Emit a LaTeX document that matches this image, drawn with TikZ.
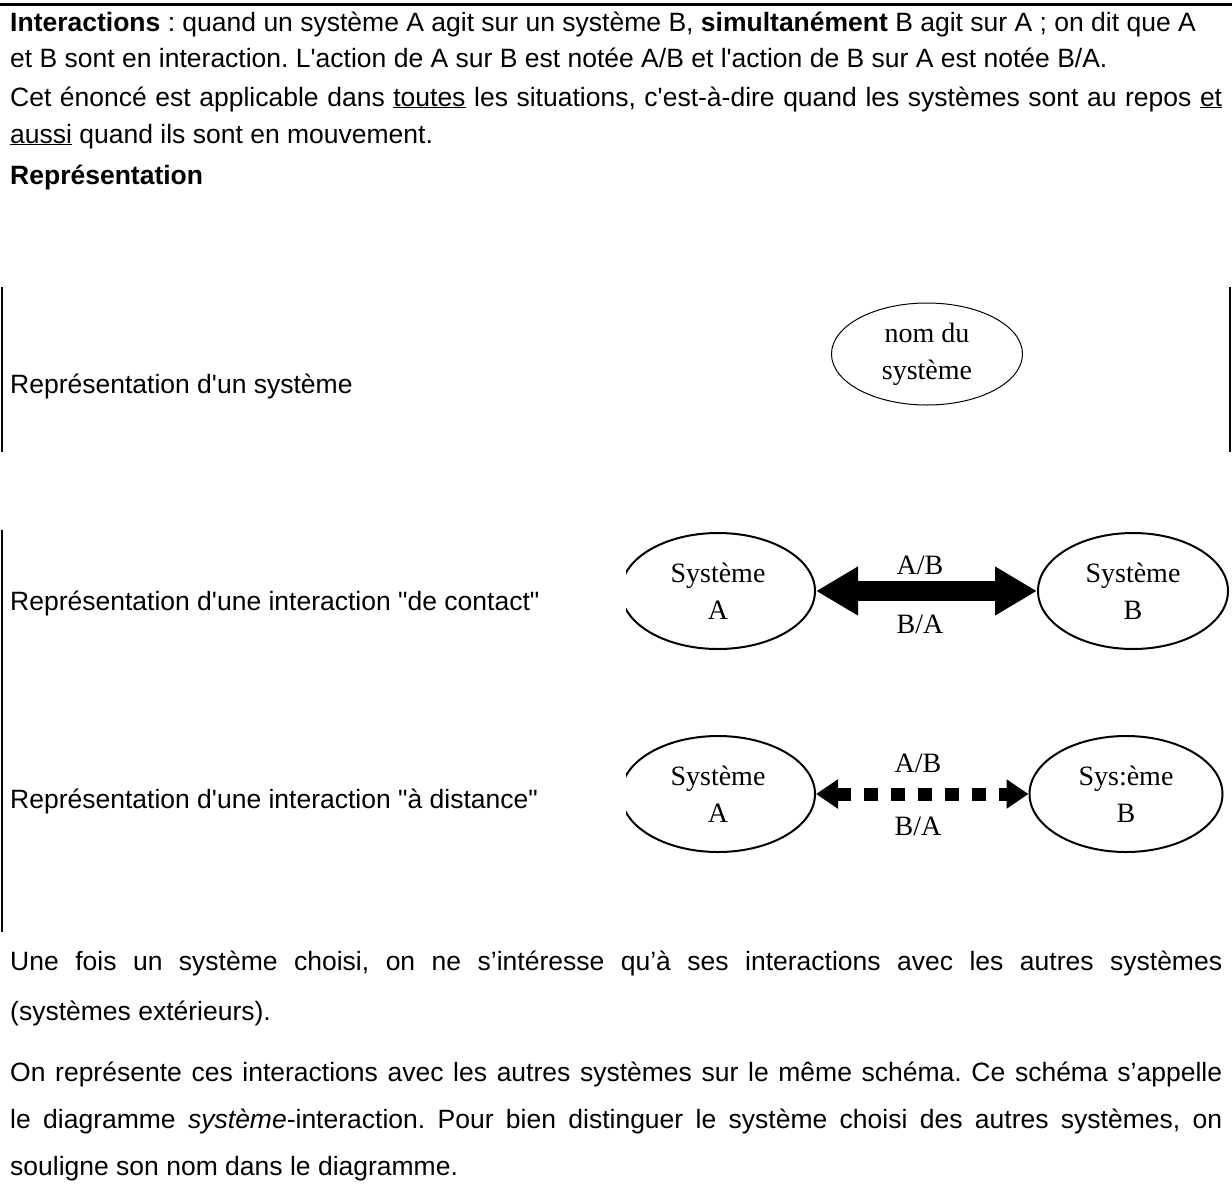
\documentclass[tikz,border=0pt]{standalone}
\usepackage{fontspec}
\setmainfont{Liberation Sans}
\newfontfamily\serifsys{Liberation Serif}
\usetikzlibrary{arrows.meta, positioning, shapes.geometric}
\frenchspacing

\newcommand{\ap}{\textquotesingle}
\newcommand{\dq}{\textquotedbl}
\newcommand{\jline}[1]{\makebox[1212pt][s]{#1}}

\begin{document}
\begin{tikzpicture}[
    x=1pt, y=-1pt,
    txt/.style={anchor=base west, inner sep=0pt, font=\fontsize{26.5}{30}\selectfont},
    sys/.style={draw, ellipse, line width=2pt, inner sep=0pt, align=center,
                minimum width=194pt, minimum height=116pt,
                font=\serifsys\fontsize{28}{37}\selectfont},
    lbl/.style={inner sep=0pt, font=\serifsys\fontsize{28}{30}\selectfont},
    frame/.style={line width=2pt},
]
    \useasboundingbox (0,0) rectangle (1232,1192);

    % Rule and frame lines
    \draw[line width=3pt] (0,4.5) -- (1232,4.5);
    \draw[frame] (1.5,287) -- (1.5,452);
    \draw[frame] (1230,287) -- (1230,452);
    \draw[frame] (1.5,530) -- (1.5,932);

    % Text above
    \node[txt] (t1) at (10,31) {\textbf{Interactions} : quand un système A agit sur un système B, \textbf{simultanément} B agit sur A ; on dit que A};
    \node[txt] (t2) at (10,67) {et B sont en interaction. L\ap action de A sur B est notée A/B et l\ap action de B sur A est notée B/A.};
    \node[txt] (t3) at (10,106) {\jline{Cet énoncé est applicable dans \underline{toutes} les situations, c\ap est-à-dire quand les systèmes sont au repos \underline{et}}};
    \node[txt] (t4) at (10,143) {\underline{aussi} quand ils sont en mouvement.};
    \node[txt] (t5) at (10,184) {\textbf{Représentation}};

    % Row: one system
    \node[txt] (r1) at (10,393) {Représentation d\ap un système};
    \node[sys, line width=1pt, minimum width=191pt, minimum height=102pt] (S) at (927,354) {nom du\\système};

    % Row: contact
    \node[txt] (r2) at (10,610) {Représentation d\ap une interaction \dq de contact\dq};
    \begin{scope}
        \clip (626,500) rectangle (1232,700);
        \node[sys] (A1) at (718,591) {Système\\A};
    \end{scope}
    \node[sys, minimum width=190pt] (B1) at (1133,591) {Système\\B};
    \draw[line width=20pt, {Triangle[length=42pt, width=46pt]}-{Triangle[length=42pt, width=46pt]}] (A1) -- (B1);
    \node[lbl] (ab1) at (920,565) {A/B};
    \node[lbl] (ba1) at (920,624) {B/A};

    % Row: distance
    \node[txt] (r3) at (10,808) {Représentation d\ap une interaction \dq à distance\dq};
    \begin{scope}
        \clip (626,700) rectangle (1232,900);
        \node[sys] (A2) at (718,794) {Système\\A};
    \end{scope}
    \node[sys, minimum width=193pt] (B2) at (1126,794) {Sys:ème\\B};
    \draw[line width=13pt, dash pattern=on 14pt off 13pt, {Triangle[length=22pt, width=28pt]}-{Triangle[length=22pt, width=28pt]}] (A2) -- (B2);
    \node[lbl] (ab2) at (918,763) {A/B};
    \node[lbl] (ba2) at (918,826) {B/A};

    % Text below
    \node[txt] (t6) at (10,970) {\jline{Une fois un système choisi, on ne s’intéresse qu’à ses interactions avec les autres systèmes}};
    \node[txt] (t7) at (10,1020) {(systèmes extérieurs).};
    \node[txt] (t8) at (10,1081) {\jline{On représente ces interactions avec les autres systèmes sur le même schéma. Ce schéma s’appelle}};
    \node[txt] (t9) at (10,1128) {\jline{le diagramme \textit{système}-interaction. Pour bien distinguer le système choisi des autres systèmes, on}};
    \node[txt] (t10) at (10,1175) {souligne son nom dans le diagramme.};
\end{tikzpicture}
\end{document}
